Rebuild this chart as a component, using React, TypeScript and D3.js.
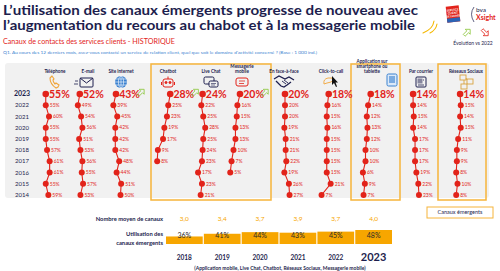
import * as React from 'react'
import * as d3 from 'd3'

// survey years, most recent first (one row each)
const years = [2023, 2022, 2021, 2020, 2019, 2018, 2017, 2016, 2015, 2014]

const channels = [
  'Téléphone',
  'E-mail',
  'Site internet',
  'Chatbot',
  'Live Chat',
  'Messagerie mobile',
  'En face-à-face',
  'Click-to-call',
  'Application sur smartphone ou tablette',
  'Par courrier',
  'Réseaux Sociaux',
]

const headerLines = [
  ['Téléphone'],
  ['E-mail'],
  ['Site internet'],
  ['Chatbot'],
  ['Live Chat'],
  ['Messagerie', 'mobile'],
  ['En face-à-face'],
  ['Click-to-call'],
  ['Application sur', 'smartphone ou', 'tablette'],
  ['Par courrier'],
  ['Réseaux Sociaux'],
]

// % of respondents having used each channel, 2023 back to 2014
const telephone = [55, 55, 60, 55, 55, 57, 61, 61, 55, 59]
const email = [52, 49, 54, 56, 51, 53, 56, 55, 57, 53]
const siteInternet = [43, 39, 45, 42, 42, 42, 48, 44, 51, 50]
const chatbot = [28, 25, 23, 19, 17, 9, 8]
const liveChat = [24, 22, 25, 28, 25, 24, 23, 17, 23, 21]
const messagerie = [20, 16, 15, 13, 13, 10, 7, 5]
const faceAFace = [20, 20, 20, 19, 21, 21, 22, 19, 26, 27]
const clickToCall = [18, 16, 15, 16, 15, 15, 15, 15, 21, 7]
const application = [18, 14, 12, 13, 12, 10, 10, 6, 9, 7]
const courrier = [14, 14, 15, 14, 17, 17, 17, 19, 22, 23]
const reseaux = [14, 15, 14, 15, 11, 9, 9, 8, 10, 8]

const series = [
  telephone, email, siteInternet, chatbot, liveChat, messagerie,
  faceAFace, clickToCall, application, courrier, reseaux,
]

const risingVs2022 = ['Site internet', 'Chatbot', 'Messagerie mobile']

// bottom table
const tableYears = [2018, 2019, 2020, 2021, 2022, 2023]
const avgChannels = [3.0, 3.4, 3.7, 3.9, 3.7, 4.0]
const emergingUse = [36, 41, 44, 43, 45, 48]

const RED = '#e2231a'
const NAVY = '#1d1e4e'
const ORANGE = '#f7a600'
const BOX = '#f6b43a'
const BLUE = '#3b82d0'
const FONT = 'Lato, sans-serif'

// layout: x of a 0% value in each column, and header centres
const colAnchor = [10, 46, 88, 152, 187, 227, 272, 317, 359, 404, 451]
const headerX = [55, 88, 121, 168, 211, 242, 284, 331, 372, 421, 466]
const boxes = [
  [151, 271],
  [351, 400],
  [438, 486],
]

function Icon({ name, x, y }: { name: string; x: number; y: number }) {
  const t = `translate(${x},${y})`
  switch (name) {
    case 'Téléphone':
      return (
        <g transform={t} fill="none" stroke="#f0a53a" strokeWidth={1.1}>
          <path d="M-3,-6 L-5,-4 Q-5,2 1,6 L3,5 L4,3 L1,1 L0,2 Q-2,0 -2,-2 L-1,-3 Z" />
        </g>
      )
    case 'E-mail':
      return (
        <g transform={t} fill="none" stroke={NAVY} strokeWidth={1}>
          <rect x={-5} y={-4} width={13} height={9} rx={1} />
          <path d="M-5,-4 L1.5,1 L8,-4" />
          <path d="M-10,-1 L-7,-1 M-11,2 L-7,2" strokeWidth={0.8} />
        </g>
      )
    case 'Site internet':
      return (
        <g transform={t}>
          <circle r={6} fill={BLUE} />
          <g fill="none" stroke="#fff" strokeWidth={0.6}>
            <ellipse rx={2.6} ry={6} />
            <path d="M-6,0 L6,0 M-5,-3 L5,-3 M-5,3 L5,3 M0,-6 L0,6" />
          </g>
        </g>
      )
    case 'Chatbot':
      return (
        <g transform={t} fill="none" stroke={RED} strokeWidth={1}>
          <rect x={-5} y={-3} width={10} height={8} rx={2} />
          <circle cx={-2} cy={0.5} r={1} fill={RED} />
          <circle cx={2} cy={0.5} r={1} fill={RED} />
          <path d="M0,-3 L0,-5.5 M-6.5,0 L-6.5,3 M6.5,0 L6.5,3" />
        </g>
      )
    case 'Live Chat':
      return (
        <g transform={t} fill="none" stroke={NAVY} strokeWidth={1}>
          <rect x={-7} y={-5} width={10} height={7} rx={1.5} />
          <rect x={-2} y={-1} width={9} height={6} rx={1.5} fill="#f1f1f1" />
          <path d="M0,1.5 L5,1.5 M0,3 L4,3" strokeWidth={0.6} />
        </g>
      )
    case 'Messagerie mobile':
      return (
        <g transform={t} fill="none" stroke={RED} strokeWidth={1}>
          <rect x={-6} y={-4} width={12} height={8} rx={2} />
          <path d="M-3,-1 L3,-1 M-3,1.5 L2,1.5" strokeWidth={0.8} />
        </g>
      )
    case 'En face-à-face':
      return (
        <g transform={t} fill="none" stroke={NAVY} strokeWidth={1.3}>
          <path d="M-10,-3 L-5,-6 L1,-3 L5,-5 L10,-2" />
          <path d="M-8,-1 L-3,4 L0,5 L3,3 L7,0" />
          <path d="M-2,-1 L2,2 M0,-2 L4,1" strokeWidth={0.9} />
        </g>
      )
    case 'Click-to-call':
      return (
        <g transform={t}>
          <path d="M-7,2 Q-8,-3 -3,-4 L1,-4 Q3,-1 0,0 L-4,1 Z" fill="none" stroke="#f0a53a" strokeWidth={0.9} />
          <path d="M1,-6 L1,3 L3,1 L5,5 L6,4.5 L4.5,0.5 L7,0.5 Z" fill="#111" />
        </g>
      )
    case 'Application sur smartphone ou tablette':
      return (
        <g transform={t}>
          <rect x={-5} y={-6} width={10} height={12} rx={1.5} fill="#dbe9f8" stroke={BLUE} strokeWidth={1} />
          <rect x={-3} y={-4} width={6} height={7} fill={BLUE} opacity={0.6} />
        </g>
      )
    case 'Par courrier':
      return (
        <g transform={t} fill="none" stroke={NAVY} strokeWidth={1}>
          <rect x={-5} y={-5} width={10} height={10} rx={1} />
          <rect x={-3} y={-3} width={4} height={4} fill={NAVY} opacity={0.5} />
          <path d="M-3,3 L3,3 M2,-2 L3,-2" strokeWidth={0.8} />
        </g>
      )
    case 'Réseaux Sociaux':
      return (
        <g transform={t} fill="none" stroke="#d9a441" strokeWidth={0.9}>
          <rect x={-6} y={-7} width={6} height={5} />
          <rect x={1} y={-3} width={6} height={5} />
          <rect x={-5} y={2} width={6} height={5} />
          <path d="M0,-4 L1,-2 M-2,-2 L-2,2" />
        </g>
      )
    default:
      return null
  }
}

function UpArrow({ x, y }: { x: number; y: number }) {
  return (
    <path
      transform={`translate(${x},${y}) rotate(-45)`}
      d="M-4,-1.3 L1,-1.3 L1,-3.5 L4.5,0 L1,3.5 L1,1.3 L-4,1.3 Z"
      fill="none"
      stroke="#8cc63f"
      strokeWidth={0.8}
    />
  )
}

export default function App() {
  const yRow = d3.scalePoint<number>().domain(years).range([94, 195])
  const offset = d3.scaleLinear().domain([0, 100]).range([0, 65])

  const xBand = d3.scaleBand<number>().domain(tableYears).range([166, 392]).paddingInner(0.03)
  const yBar = d3.scaleLinear().domain([22, 48]).range([244, 230])
  const fmtAvg = (v: number) => d3.format('.1f')(v).replace('.', ',')

  return (
    <svg
      width={500}
      height={271}
      style={{ position: 'absolute', left: 0, top: 0, background: '#fff' }}
      fontFamily={FONT}
    >
      {/* heading */}
      <text x={3} y={14.5} fontSize={13.6} fontWeight={700} fill={NAVY} textLength={415} lengthAdjust="spacingAndGlyphs">
        L’utilisation des canaux émergents progresse de nouveau avec
      </text>
      <text x={3} y={29.5} fontSize={13.6} fontWeight={700} fill={NAVY} textLength={412} lengthAdjust="spacingAndGlyphs">
        l’augmentation du recours au chabot et à la messagerie mobile
      </text>
      <g fill="none" stroke="#f5b800" strokeWidth={1.1} strokeLinecap="round">
        <path d="M434,21 Q433,29 423,33" />
        <path d="M437,24 Q436,30 430,33" />
      </g>
      <text x={3} y={44} fontSize={7} fill={RED} textLength={172} lengthAdjust="spacingAndGlyphs">
        Canaux de contacts des services clients - HISTORIQUE
      </text>
      <text x={3} y={54} fontSize={4.5} fill={BLUE} textLength={314} lengthAdjust="spacingAndGlyphs">
        Q1. Au cours des 12 derniers mois, avez-vous contacté un service de relation client, quel que soit le domaine d'activité concerné ? (Base : 1 000 ind.)
      </text>

      {/* logos */}
      <g transform="translate(453,14) rotate(-6)">
        <rect x={-6.5} y={-8} width={13} height={16} fill={RED} />
        <rect x={-6.5} y={4} width={13} height={4} fill="#2b63b5" />
        <text y={-3} fontSize={3} fill="#fff" fontWeight={700} textAnchor="middle">SERVICE</text>
        <text y={0} fontSize={3} fill="#fff" fontWeight={700} textAnchor="middle">CLIENT</text>
        <text y={3} fontSize={2.6} fill="#fff" fontWeight={700} textAnchor="middle">DE L'ANNÉE</text>
      </g>
      <path d="M474,7 Q469,14 474,22" fill="none" stroke={NAVY} strokeWidth={0.7} />
      <text x={476} y={12} fontSize={6.5} fill={NAVY}>bva</text>
      <text x={476} y={19.5} fontSize={7} fontWeight={700} fill={RED}>Xsight</text>
      <UpArrow x={467} y={32.5} />
      <path
        transform="translate(485,32.5) rotate(45)"
        d="M-4,-1.3 L1,-1.3 L1,-3.5 L4.5,0 L1,3.5 L1,1.3 L-4,1.3 Z"
        fill="none"
        stroke={RED}
        strokeWidth={0.8}
      />
      <text x={473} y={45} fontSize={5} fill={NAVY} textAnchor="middle">Évolution vs 2022</text>

      {/* history panel */}
      <rect x={5} y={63} width={484} height={135} rx={3} fill="#f1f1f1" />
      {boxes.map(([x0, x1], i) => (
        <rect key={i} x={x0} y={64} width={x1 - x0} height={136} fill="none" stroke={BOX} strokeWidth={1.5} />
      ))}

      {years.map((yr) => (
        <text
          key={yr}
          x={22}
          y={yRow(yr)}
          dy="0.35em"
          textAnchor="middle"
          fontSize={yr === 2023 ? 7 : 6}
          fontWeight={yr === 2023 ? 700 : 400}
          fill={NAVY}
        >
          {yr}
        </text>
      ))}

      {channels.map((name, c) => {
        const values = series[c]
        const xOf = (v: number) => colAnchor[c] + offset(v)
        const line = d3
          .line<number>()
          .x((v) => xOf(v))
          .y((_, i) => yRow(years[i]) as number)
        const lines = headerLines[c]
        const headerTop = 71 - (lines.length - 1) * 5
        return (
          <g key={name}>
            {lines.map((l, i) => (
              <text
                key={i}
                x={headerX[c]}
                y={headerTop + i * 5.2}
                dy="0.35em"
                textAnchor="middle"
                fontSize={4.6}
                fontWeight={700}
                fill={NAVY}
              >
                {l}
              </text>
            ))}
            <Icon name={name} x={headerX[c] + (c === 8 ? 20 : c === 1 ? -3 : 0)} y={c === 8 ? 80 : 82} />
            <path d={line(values) || ''} fill="none" stroke={RED} strokeWidth={1.1} />
            {values.map((v, i) => {
              const cy = yRow(years[i]) as number
              const cx = xOf(v)
              const latest = i === 0
              return (
                <g key={i}>
                  <circle cx={cx} cy={cy} r={latest ? 3.3 : 3} fill={RED} />
                  <text
                    x={cx + (latest ? 3.2 : 4)}
                    y={cy}
                    dy="0.36em"
                    fontSize={latest ? 10.5 : 5}
                    fontWeight={latest ? 700 : 400}
                    fill={RED}
                  >
                    {v}%
                  </text>
                </g>
              )
            })}
            {risingVs2022.includes(name) && (
              <UpArrow x={xOf(values[0]) + 25} y={(yRow(2023) as number) - 1.5} />
            )}
          </g>
        )
      })}

      {/* legend */}
      <rect x={427} y={207} width={66} height={11} fill="#fff" stroke={BOX} strokeWidth={1} />
      <text x={460} y={212.5} dy="0.35em" textAnchor="middle" fontSize={5.5} fill={NAVY}>
        Canaux émergents
      </text>

      {/* yearly summary table */}
      <g fontWeight={700} fill={NAVY} fontSize={5.8} textAnchor="end">
        <text x={163} y={219} dy="0.35em">Nombre moyen de canaux</text>
        <text x={163} y={234} dy="0.35em">Utilisation des</text>
        <text x={163} y={242.5} dy="0.35em">canaux émergents</text>
      </g>
      {tableYears.map((yr, i) => {
        const x = xBand(yr) as number
        const cx = x + xBand.bandwidth() / 2
        return (
          <g key={yr}>
            <text x={cx} y={219} dy="0.35em" textAnchor="middle" fontSize={6.5} fill={ORANGE}>
              {fmtAvg(avgChannels[i])}
            </text>
            <rect x={x} y={yBar(emergingUse[i])} width={xBand.bandwidth()} height={yBar(22) - yBar(emergingUse[i])} fill={ORANGE} />
            <text x={cx} y={235.5} dy="0.35em" textAnchor="middle" fontSize={7} fill="#2a2a2a">
              {emergingUse[i]}%
            </text>
            <text
              x={cx}
              y={yr === 2023 ? 257 : 257.5}
              dy="0.35em"
              textAnchor="middle"
              fontSize={yr === 2023 ? 11 : 6.5}
              fontWeight={700}
              fill={NAVY}
            >
              {yr}
            </text>
          </g>
        )
      })}
      <text x={280} y={270} textAnchor="middle" fontSize={5} fontWeight={700} fill={NAVY}>
        (Application mobile, Live Chat, Chatbot, Réseaux Sociaux, Messagerie mobile)
      </text>
    </svg>
  )
}
